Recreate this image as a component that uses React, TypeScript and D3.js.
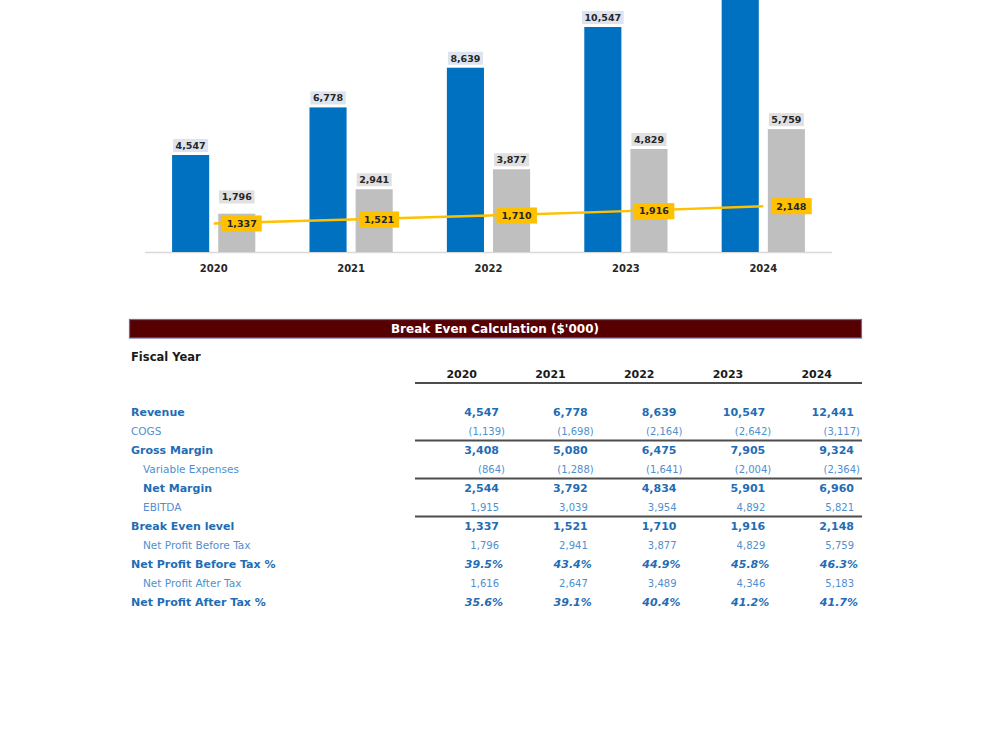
import * as d3 from "d3";
import { useEffect, useRef } from "react";

const years = ["2020", "2021", "2022", "2023", "2024"];
const revenue = [4547, 6778, 8639, 10547, 12441];
const cogs = [-1139, -1698, -2164, -2642, -3117];
const grossMargin = [3408, 5080, 6475, 7905, 9324];
const variableExpenses = [-864, -1288, -1641, -2004, -2364];
const netMargin = [2544, 3792, 4834, 5901, 6960];
const ebitda = [1915, 3039, 3954, 4892, 5821];
const breakEven = [1337, 1521, 1710, 1916, 2148];
const netProfitBeforeTax = [1796, 2941, 3877, 4829, 5759];
const npbtPct = [39.5, 43.4, 44.9, 45.8, 46.3];
const netProfitAfterTax = [1616, 2647, 3489, 4346, 5183];
const npatPct = [35.6, 39.1, 40.4, 41.2, 41.7];

const FONT = "'DejaVu Sans', Verdana, sans-serif";
const BLUE = "#0070c0";
const GRAY = "#bfbfbf";
const GOLD = "#ffc000";
const TXT_BLUE = "#1f6db5";
const TXT_LIGHT = "#4f8fd0";

type RowKind = "bold" | "plain" | "pct";
type Row = { label: string; values: number[]; kind: RowKind; indent: boolean; ruleAfter?: boolean };

const rows: Row[] = [
  { label: "Revenue", values: revenue, kind: "bold", indent: false },
  { label: "COGS", values: cogs, kind: "plain", indent: false, ruleAfter: true },
  { label: "Gross Margin", values: grossMargin, kind: "bold", indent: false },
  { label: "Variable Expenses", values: variableExpenses, kind: "plain", indent: true, ruleAfter: true },
  { label: "Net Margin", values: netMargin, kind: "bold", indent: true },
  { label: "EBITDA", values: ebitda, kind: "plain", indent: true, ruleAfter: true },
  { label: "Break Even level", values: breakEven, kind: "bold", indent: false },
  { label: "Net Profit Before Tax", values: netProfitBeforeTax, kind: "plain", indent: true },
  { label: "Net Profit Before Tax %", values: npbtPct, kind: "pct", indent: false },
  { label: "Net Profit After Tax", values: netProfitAfterTax, kind: "plain", indent: true },
  { label: "Net Profit After Tax %", values: npatPct, kind: "pct", indent: false },
];

const fmt = d3.format(",");

// label with a filled box behind it; returns the box
function boxLabel(
  g: d3.Selection<SVGGElement, unknown, null, undefined>,
  text: string,
  x: number,
  y: number,
  fill: string,
  padX: number,
  padY: number,
  anchor: "middle" | "start"
) {
  const grp = g.append("g");
  const rect = grp.append("rect").attr("fill", fill);
  const t = grp
    .append("text")
    .attr("x", x)
    .attr("y", y)
    .attr("dy", "0.35em")
    .attr("text-anchor", anchor)
    .attr("font-family", FONT)
    .attr("font-weight", "bold")
    .attr("font-size", 9.5)
    .attr("fill", "#262626")
    .text(text);
  const bb = (t.node() as SVGTextElement).getBBox();
  const w = bb.width + padX * 2;
  const h = 9.5 + padY * 2;
  const left = anchor === "middle" ? x - w / 2 : x - padX;
  rect.attr("x", left).attr("y", y - h / 2).attr("width", w).attr("height", h);
  return { grp, t, rect, left, top: y - h / 2, w, h };
}

const drawChart = (svgEl: SVGSVGElement) => {
  const svg = d3.select(svgEl);
  svg.selectAll("*").remove();

  svg.append("rect").attr("width", 1000).attr("height", 750).attr("fill", "#fff");

  // ---------- combo chart ----------
  const chart = svg.append("g");
  const x = d3.scaleBand().domain(years).range([145, 832]);
  const inner = d3
    .scaleBand()
    .domain(["rev", "npbt"])
    .range([0, x.bandwidth()])
    .paddingInner(0.196)
    .paddingOuter(0.587);
  const y = d3.scaleLinear().domain([0, 12000]).range([252, -4]);

  chart
    .append("line")
    .attr("x1", 145)
    .attr("x2", 832)
    .attr("y1", y(0) + 0.5)
    .attr("y2", y(0) + 0.5)
    .attr("stroke", "#d9d9d9")
    .attr("stroke-width", 1.5);

  chart
    .selectAll("rect.rev")
    .data(revenue)
    .enter()
    .append("rect")
    .attr("class", "rev")
    .attr("x", (d, i) => x(years[i])! + inner("rev")!)
    .attr("y", (d) => y(d))
    .attr("width", inner.bandwidth())
    .attr("height", (d) => y(0) - y(d))
    .attr("fill", BLUE);

  chart
    .selectAll("rect.npbt")
    .data(netProfitBeforeTax)
    .enter()
    .append("rect")
    .attr("class", "npbt")
    .attr("x", (d, i) => x(years[i])! + inner("npbt")!)
    .attr("y", (d) => y(d))
    .attr("width", inner.bandwidth())
    .attr("height", (d) => y(0) - y(d))
    .attr("fill", GRAY);

  const cx = (i: number) => x(years[i])! + x.bandwidth() / 2;
  const line = d3
    .line<number>()
    .x((d, i) => cx(i))
    .y((d) => y(d));
  chart
    .append("path")
    .attr("d", line(breakEven))
    .attr("fill", "none")
    .attr("stroke", GOLD)
    .attr("stroke-width", 2.5);

  const labels = chart.append("g");

  // revenue labels above the blue bars (the tallest bar runs past the top edge, its label with it)
  revenue.forEach((v, i) => {
    const ly = y(v) - 9.5;
    if (ly - 8 < 0) return;
    const bx = x(years[i])! + inner("rev")! + inner.bandwidth() / 2;
    boxLabel(labels, fmt(v), bx, ly, "#dde4ef", 2.5, 1.8, "middle");
  });

  // break-even labels right of the points
  const beBoxes = breakEven.map((v, i) =>
    boxLabel(labels, fmt(v), cx(i) + 13, y(v), GOLD, 5, 3.3, "start")
  );

  // NPBT labels above the gray bars, lifted clear of the break-even label if they crowd it
  netProfitBeforeTax.forEach((v, i) => {
    const bx = x(years[i])! + inner("npbt")! + inner.bandwidth() / 2;
    let cy = y(v) - 9.5;
    const be = beBoxes[i];
    const bottom = cy + 6.5;
    if (bottom > be.top - 12) cy = be.top - 12 - 6.5;
    const lb = boxLabel(labels, fmt(v), bx, cy, "#e0e0e0", 2.5, 1.8, "middle");
    lb.grp.lower();
  });
  beBoxes.forEach((b) => b.grp.raise());

  chart
    .append("g")
    .selectAll("text")
    .data(years)
    .enter()
    .append("text")
    .attr("x", (d) => x(d)! + x.bandwidth() / 2)
    .attr("y", 268)
    .attr("dy", "0.35em")
    .attr("text-anchor", "middle")
    .attr("font-family", FONT)
    .attr("font-weight", "bold")
    .attr("font-size", 10)
    .attr("fill", "#262626")
    .text((d) => d);

  // ---------- break even table ----------
  const table = svg.append("g");
  table
    .append("rect")
    .attr("x", 129.5)
    .attr("y", 319.5)
    .attr("width", 732)
    .attr("height", 18.5)
    .attr("fill", "#560000")
    .attr("stroke", "#6a6aa8")
    .attr("stroke-width", 1.2);
  table
    .append("text")
    .attr("x", 495)
    .attr("y", 329)
    .attr("dy", "0.35em")
    .attr("text-anchor", "middle")
    .attr("font-family", FONT)
    .attr("font-weight", "bold")
    .attr("font-size", 12)
    .attr("fill", "#fff")
    .text("Break Even Calculation ($'000)");

  table
    .append("text")
    .attr("x", 131)
    .attr("y", 357)
    .attr("dy", "0.35em")
    .attr("font-family", FONT)
    .attr("font-weight", "bold")
    .attr("font-size", 11.5)
    .attr("fill", "#1a1a1a")
    .text("Fiscal Year");

  const col = d3.scalePoint().domain(years).range([505, 860]);

  table
    .append("g")
    .selectAll("text")
    .data(years)
    .enter()
    .append("text")
    .attr("x", (d) => col(d)! - 28)
    .attr("y", 374)
    .attr("dy", "0.35em")
    .attr("text-anchor", "end")
    .attr("font-family", FONT)
    .attr("font-weight", "bold")
    .attr("font-size", 11)
    .attr("fill", "#1a1a1a")
    .text((d) => d);

  const rule = (yy: number) =>
    table
      .append("line")
      .attr("x1", 415)
      .attr("x2", 862)
      .attr("y1", yy)
      .attr("y2", yy)
      .attr("stroke", "#4d4d4d")
      .attr("stroke-width", 2);

  rule(383);

  const rowY = d3.scaleLinear().domain([0, rows.length - 1]).range([412, 602]);

  rows.forEach((r, ri) => {
    const yy = rowY(ri);
    const boldish = r.kind !== "plain";
    table
      .append("text")
      .attr("x", r.indent ? 143 : 131)
      .attr("y", yy)
      .attr("dy", "0.35em")
      .attr("font-family", FONT)
      .attr("font-weight", boldish ? "bold" : "normal")
      .attr("font-size", boldish ? 11 : 10.5)
      .attr("fill", boldish ? TXT_BLUE : TXT_LIGHT)
      .text(r.label);

    table
      .append("g")
      .selectAll("text")
      .data(r.values)
      .enter()
      .append("text")
      .attr("x", (d, i) => {
        const base = col(years[i])!;
        if (r.kind === "pct") return base - 2;
        return d < 0 ? base : base - 6;
      })
      .attr("y", yy)
      .attr("dy", "0.35em")
      .attr("text-anchor", "end")
      .attr("font-family", FONT)
      .attr("font-weight", boldish ? "bold" : "normal")
      .attr("font-style", r.kind === "pct" ? "italic" : "normal")
      .attr("font-size", r.kind === "plain" ? 10 : 11)
      .attr("fill", boldish ? TXT_BLUE : TXT_LIGHT)
      .text((d) =>
        r.kind === "pct" ? d.toFixed(1) + "%" : d < 0 ? "(" + fmt(-d) + ")" : fmt(d)
      );

    if (r.ruleAfter) rule(yy + (rowY(1) - rowY(0)) / 2);
  });
};

const App = () => {
  const ref = useRef<SVGSVGElement>(null);

  useEffect(() => {
    if (ref.current) drawChart(ref.current);
  }, []);

  return (
    <svg
      ref={ref}
      width={1000}
      height={750}
      style={{ position: "absolute", left: 0, top: 0, display: "block" }}
    />
  );
};

export default App;
